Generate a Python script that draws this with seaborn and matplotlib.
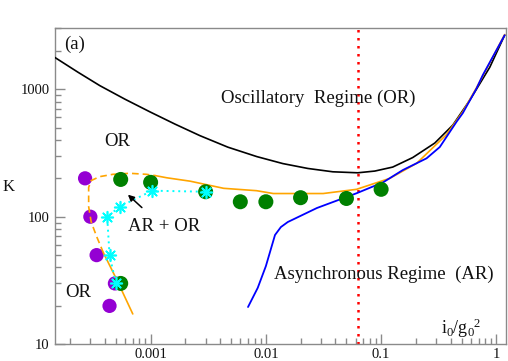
import numpy as np
import pandas as pd
import matplotlib
matplotlib.use("Agg")
import matplotlib.pyplot as plt
import seaborn as sns

# ---------------- data ----------------
black_x = [1.479e-4, 2.339e-4, 3.63e-4, 5.98e-4, 9.86e-4, 1.629e-3, 2.68e-3, 4.68e-3, 8.35e-3, 0.01403,
           0.02312, 0.0381, 0.0627, 0.0881, 0.126, 0.188, 0.292, 0.419, 0.588, 0.877, 1.18]
black_y = [1771, 1359, 1065, 835, 664, 532, 432, 351, 296, 261,
           239, 225, 221, 228, 245, 291, 378, 523, 820, 1487, 2650]

blue_x = [0.0070, 0.0085, 0.010, 0.012, 0.0135, 0.0155, 0.0277, 0.0615, 0.104, 0.154, 0.248, 0.323, 0.451, 0.511, 0.672, 0.762, 1.18]
blue_y = [19.6, 27.7, 41, 71.9, 83, 90.9, 117, 153, 186, 232, 287, 352, 555, 649, 1012, 1288, 2650]

orange_low_x = [0.0007, 0.00051, 0.00039]
orange_low_y = [17.3, 31.9, 52]
orange_dash_x = [0.00039, 0.00034, 0.000305, 0.00029, 0.00029, 0.000305, 0.00036, 0.00047, 0.00066, 0.00092, 0.0011]
orange_dash_y = [52, 70, 91, 120, 170, 192, 206, 215, 219, 215, 210]
orange_hi_x = [0.0011, 0.00138, 0.0022, 0.0043, 0.0083, 0.0116, 0.0314, 0.0612, 0.119, 0.203, 0.369, 0.511, 0.672, 1.18]
orange_hi_y = [210, 202, 190, 167, 160, 152, 152, 164, 200, 262, 440, 665, 1025, 2680]

green_x = [0.00055, 0.001, 0.003, 0.006, 0.01, 0.02, 0.05, 0.1, 0.00055]
green_y = [196, 186, 157, 131, 131, 141, 139, 164, 30]

purple_x = [0.00027, 0.0003, 0.00034, 0.00049, 0.00044]
purple_y = [200, 100, 50, 30, 20]

cyan_x = [0.0005, 0.00044, 0.00042, 0.00054, 0.00103, 0.003]
cyan_y = [30, 50, 100, 120, 160, 157]

red_x = 0.0625

x_ticks = [0.001, 0.01, 0.1, 1]
x_tick_labels = ["0.001", "0.01", "0.1", "1"]
y_ticks = [10, 100, 1000]
y_tick_labels = ["10", "100", "1000"]

# ---------------- style ----------------
sns.set_style("white")
plt.rcParams["font.family"] = ["Liberation Serif", "DejaVu Serif"]
plt.rcParams["mathtext.fontset"] = "custom"
plt.rcParams["mathtext.rm"] = "Liberation Serif"
plt.rcParams["mathtext.it"] = "Liberation Serif:italic"

fig = plt.figure(figsize=(5.08, 3.61), dpi=100)
ax = fig.add_axes([0.1089, 0.0463, 0.8862, 0.8753])
ax.set_xscale("log")
ax.set_yscale("log")
ax.set_xlim(1.49e-4, 1.2)
ax.set_ylim(10, 3000)

frame_col = "#8a8a8a"
for s in ax.spines.values():
    s.set_color(frame_col)
    s.set_linewidth(1.0)

# lines
sns.lineplot(x=black_x, y=black_y, sort=False, estimator=None, ax=ax, color="black", linewidth=1.2, zorder=3)
sns.lineplot(x=orange_low_x, y=orange_low_y, sort=False, estimator=None, ax=ax, color="#FFA500", linewidth=1.2, zorder=3)
sns.lineplot(x=orange_dash_x, y=orange_dash_y, sort=False, estimator=None, ax=ax, color="#FFA500", linewidth=1.2,
             linestyle=(0, (4, 2.4)), zorder=3)
sns.lineplot(x=orange_hi_x, y=orange_hi_y, sort=False, estimator=None, ax=ax, color="#FFA500", linewidth=1.2, zorder=3)
sns.lineplot(x=blue_x, y=blue_y, sort=False, estimator=None, ax=ax, color="#0000FF", linewidth=1.3, zorder=3.5)

ax.axvline(red_x, color="red", linewidth=1.8, linestyle=(0, (1, 2.2)), zorder=2)

# markers
sns.scatterplot(x=purple_x, y=purple_y, ax=ax, s=105, color="#9400D3", edgecolor="none", zorder=2.5)
sns.scatterplot(x=green_x, y=green_y, ax=ax, s=117, color="#008000", edgecolor="none", zorder=4)
sns.lineplot(x=cyan_x, y=cyan_y, sort=False, estimator=None, ax=ax, color="#00FFFF", linewidth=1.4,
             linestyle=(0, (1, 2)), zorder=4.5)
sns.scatterplot(x=cyan_x, y=cyan_y, ax=ax, s=70, marker=(8, 2, 0), color="#00FFFF", linewidth=1.2, zorder=5)

# ticks
ax.set_xticks(x_ticks)
ax.set_xticklabels(x_tick_labels)
ax.set_yticks(y_ticks)
ax.set_yticklabels(y_tick_labels)
ax.xaxis.set_minor_locator(matplotlib.ticker.LogLocator(base=10, subs=np.arange(2, 10)))
ax.yaxis.set_minor_locator(matplotlib.ticker.LogLocator(base=10, subs=np.arange(2, 10)))
ax.xaxis.set_minor_formatter(matplotlib.ticker.NullFormatter())
ax.yaxis.set_minor_formatter(matplotlib.ticker.NullFormatter())
ax.tick_params(which="both", direction="in", color=frame_col, labelsize=10.5, top=False, right=False,
               bottom=True, left=True, width=1.0, labelcolor="#111111")
ax.tick_params(which="major", length=7)
ax.tick_params(axis="x", which="major", pad=2.5)
ax.tick_params(axis="y", which="major", pad=4)
ax.tick_params(which="minor", length=4)
ax.set_xlabel("")
ax.set_ylabel("")

# texts
tk = dict(fontsize=13.5, ha="center", va="center", transform=ax.transAxes, color="#111111")
ax.text(0.0438, 0.950, "(a)", **tk)
ax.text(0.5835, 0.7794, "Oscillatory  Regime (OR)", **tk)
ax.text(0.138, 0.643, "OR", **tk)
ax.text(0.2414, 0.3712, "AR + OR", **tk)
ax.text(0.0515, 0.164, "OR", **tk)
ax.text(0.730, 0.2225, "Asynchronous Regime  (AR)", **tk)
ax.text(0.9027, 0.0516, r"$\mathrm{i_0/g_0{}^{2}}$", fontsize=13, ha="center", va="center",
        transform=ax.transAxes, color="#111111")
fig.text(0.0177, 0.482, "K", fontsize=12, ha="center", va="center", color="#111111")

ax.annotate("", xy=(0.00061, 154), xytext=(0.000875, 114),
            arrowprops=dict(arrowstyle="-|>", color="black", lw=1.1, mutation_scale=9), zorder=6)

fig.savefig("out.png", dpi=100)
